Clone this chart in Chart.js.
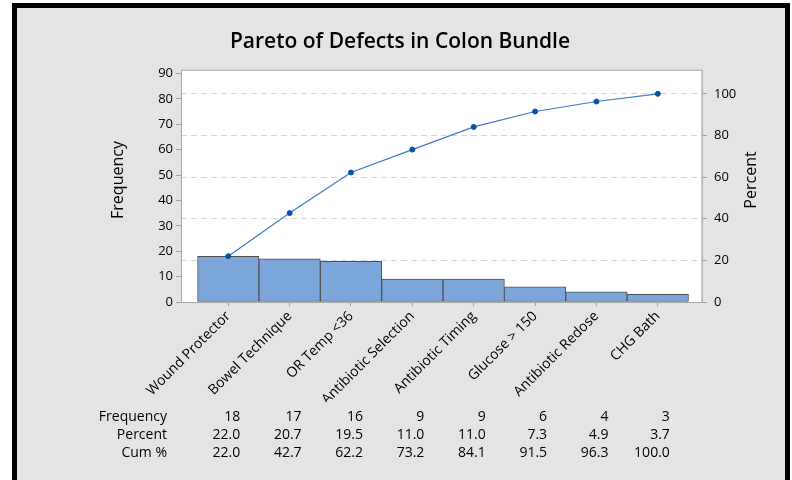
<!DOCTYPE html>
<html>
<head>
<meta charset="utf-8">
<script src="https://cdn.jsdelivr.net/npm/chart.js@4"></script>
<style>
    html, body { margin: 0; padding: 0; background: #fff; }
    body { width: 792px; height: 480px; overflow: hidden; position: relative; }
    #frame { position: absolute; left: 12px; top: 3px; width: 768px; height: 500px; border: 5px solid #000; background: #e4e4e4; }
    #paretoChart { position: absolute; left: 0; top: 0; }
</style>
</head>
<body>
<div id="frame"></div>
<canvas id="paretoChart" width="792" height="480"></canvas>
<script>
const categories = ['Wound Protector', 'Bowel Technique', 'OR Temp <36', 'Antibiotic Selection',
    'Antibiotic Timing', 'Glucose > 150', 'Antibiotic Redose', 'CHG Bath'];
const frequency = [18, 17, 16, 9, 9, 6, 4, 3];
const percent = [22.0, 20.7, 19.5, 11.0, 11.0, 7.3, 4.9, 3.7];
const cumPercent = [22.0, 42.7, 62.2, 73.2, 84.1, 91.5, 96.3, 100.0];
const freqTicks = [0, 10, 20, 30, 40, 50, 60, 70, 80, 90];
const percentTicks = [0, 20, 40, 60, 80, 100];
const tableRows = ['Frequency', 'Percent', 'Cum %'];

const FONT = 'Open Sans';
const total = frequency.reduce((s, v) => s + v, 0);
const leftMax = 91.3;
const rightMax = leftMax / total * 100;

// white plot area with a thin grey frame
const plotArea = {
    id: 'plotArea',
    beforeDraw(chart) {
        const { ctx, chartArea: a } = chart;
        ctx.save();
        ctx.fillStyle = '#ffffff';
        ctx.fillRect(a.left, a.top, a.right - a.left, a.bottom - a.top);
        ctx.restore();
    },
    beforeDatasetsDraw(chart) {
        const { ctx, chartArea: a } = chart;
        ctx.save();
        ctx.strokeStyle = '#bdbdbd';
        ctx.lineWidth = 1.5;
        ctx.beginPath();
        ctx.moveTo(a.left, a.top);
        ctx.lineTo(a.right, a.top);
        ctx.lineTo(a.right, a.bottom);
        ctx.stroke();
        ctx.restore();
    }
};

// axis titles (Minitab reads both upwards)
const axisTitles = {
    id: 'axisTitles',
    afterDraw(chart) {
        const ctx = chart.ctx;
        ctx.save();
        ctx.font = '16px "' + FONT + '"';
        ctx.fillStyle = '#000';
        ctx.textAlign = 'center';
        ctx.textBaseline = 'middle';
        [[118, 'Frequency'], [751, 'Percent']].forEach(([x, t]) => {
            ctx.save();
            ctx.translate(x, 180);
            ctx.rotate(-Math.PI / 2);
            ctx.fillText(t, 0, 0);
            ctx.restore();
        });
        ctx.restore();
    }
};

// summary table under the chart, columns follow the x scale
const summaryTable = {
    id: 'summaryTable',
    afterDraw(chart) {
        const ctx = chart.ctx;
        const xs = chart.scales.x;
        const rows = [
            frequency.map(String),
            percent.map(v => v.toFixed(1)),
            cumPercent.map(v => v.toFixed(1))
        ];
        ctx.save();
        ctx.font = '14px "' + FONT + '"';
        ctx.fillStyle = '#000';
        ctx.textAlign = 'right';
        ctx.textBaseline = 'middle';
        tableRows.forEach((label, r) => {
            const y = 417 + r * 18;
            ctx.fillText(label, 167, y);
            rows[r].forEach((val, i) => {
                ctx.fillText(val, xs.getPixelForValue(i) + 12, y);
            });
        });
        ctx.restore();
    }
};

const tickFont = { family: FONT, size: 13 };

new Chart(document.getElementById('paretoChart').getContext('2d'), {
    type: 'bar',
    data: {
        datasets: [
            {
                type: 'line',
                label: 'Cum %',
                data: cumPercent.map((v, i) => ({ x: i, y: v })),
                yAxisID: 'y1',
                borderColor: '#3a7cc9',
                borderWidth: 1.2,
                pointRadius: 2.5,
                pointBorderWidth: 1,
                pointBackgroundColor: '#0b52a5',
                pointBorderColor: '#0b52a5',
                tension: 0,
                order: 0
            },
            {
                type: 'bar',
                label: 'Frequency',
                data: frequency.map((v, i) => ({ x: i, y: v })),
                yAxisID: 'y',
                backgroundColor: '#7ca6da',
                borderColor: '#505050',
                borderWidth: 1,
                borderSkipped: false,
                barPercentage: 1,
                categoryPercentage: 1,
                order: 1
            }
        ]
    },
    options: {
        responsive: false,
        animation: false,
        layout: { padding: { left: 8, right: 0, top: 0, bottom: 78 } },
        plugins: {
            legend: { display: false },
            tooltip: { enabled: false },
            title: {
                display: true,
                text: 'Pareto of Defects in Colon Bundle',
                color: '#000',
                font: { family: FONT, size: 21, weight: 600 },
                padding: { top: 29, bottom: 16 }
            }
        },
        scales: {
            x: {
                type: 'linear',
                min: -0.77,
                max: 7.72,
                offset: false,
                bounds: 'data',
                afterBuildTicks: s => { s.ticks = categories.map((c, i) => ({ value: i })); },
                afterFit: s => { s.height = 100; },
                ticks: {
                    autoSkip: false,
                    minRotation: 45,
                    maxRotation: 45,
                    padding: 2,
                    color: '#000',
                    font: { family: FONT, size: 14 },
                    callback: (v, i) => categories[i]
                },
                grid: { drawOnChartArea: false, drawTicks: true, tickLength: 4, tickColor: '#a0a0a0', offset: false },
                border: { color: '#a8a8a8' }
            },
            y: {
                position: 'left',
                min: 0,
                max: leftMax,
                afterBuildTicks: s => { s.ticks = freqTicks.map(v => ({ value: v })); },
                afterFit: s => { s.width = 173; },
                ticks: { padding: 3, color: '#000', font: tickFont },
                grid: { drawOnChartArea: false, tickLength: 5, tickColor: '#a0a0a0' },
                border: { color: '#a8a8a8' }
            },
            y1: {
                position: 'right',
                min: 0,
                max: rightMax,
                afterBuildTicks: s => { s.ticks = percentTicks.map(v => ({ value: v })); },
                afterFit: s => { s.width = 90; },
                ticks: { padding: 7, color: '#000', font: tickFont },
                grid: {
                    color: c => (c.tick && c.tick.value === 0) ? 'rgba(0,0,0,0)' : '#d6d6d6',
                    tickColor: '#a0a0a0',
                    tickLength: 5
                },
                border: { color: '#a8a8a8', dash: [6, 4] }
            }
        }
    },
    plugins: [plotArea, axisTitles, summaryTable]
});
</script>
</body>
</html>
